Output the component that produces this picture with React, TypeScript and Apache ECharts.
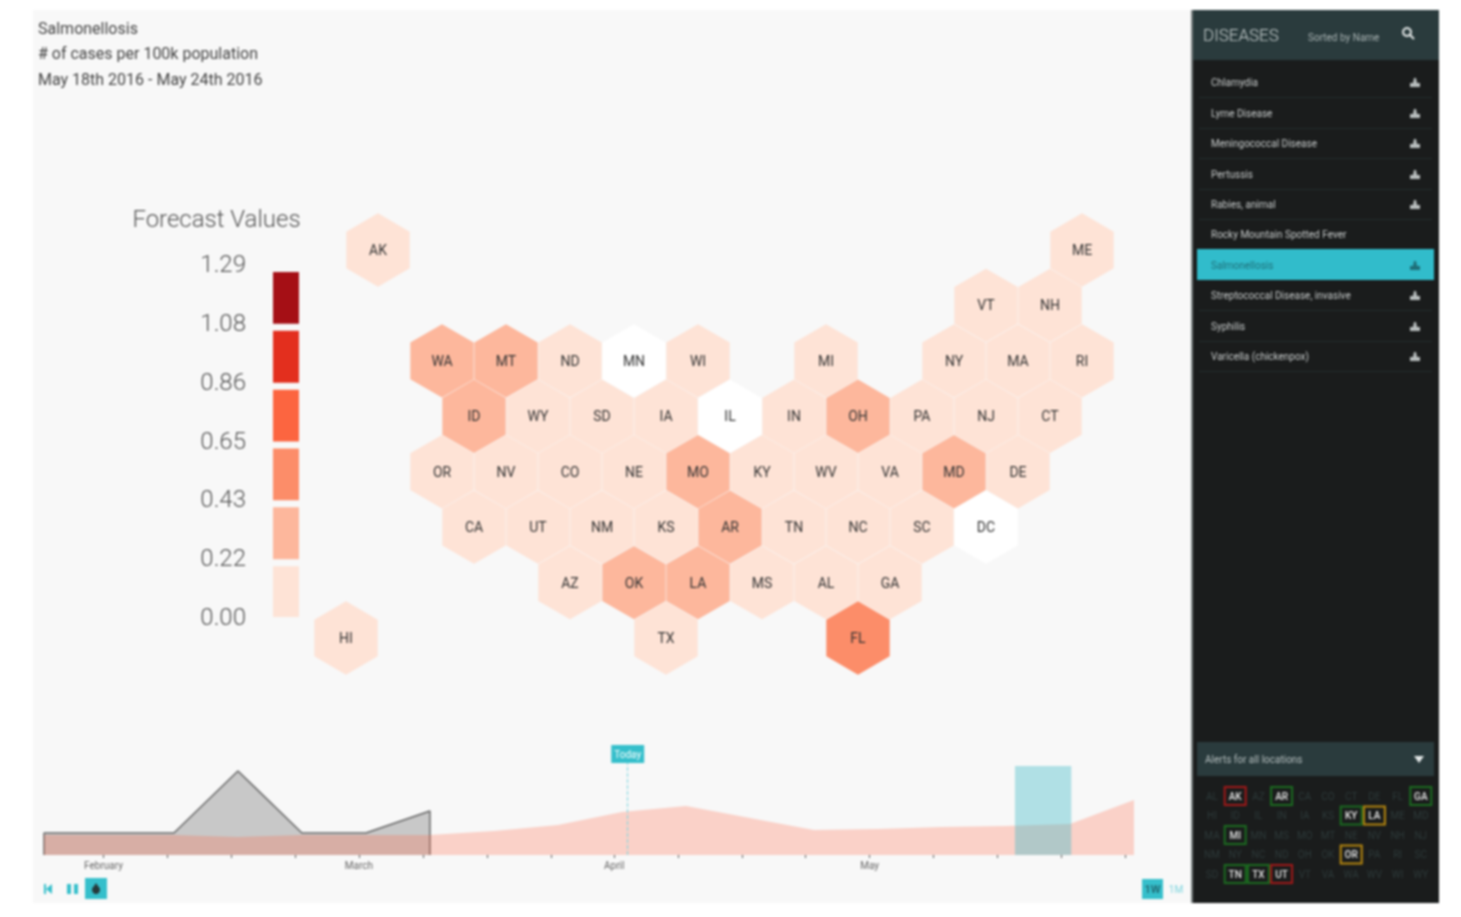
import React, { useEffect, useRef } from "react";
import * as echarts from "echarts";

const FONT = "Roboto";
const hexStates = ["AK","ME","VT","NH","WA","MT","ND","MN","WI","MI","NY","MA","RI","ID","WY","SD","IA","IL","IN","OH","PA","NJ","CT","OR","NV","CO","NE","MO","KY","WV","VA","MD","DE","CA","UT","NM","KS","AR","TN","NC","SC","DC","AZ","OK","LA","MS","AL","GA","HI","TX","FL"];
const hexCols = [-1,10,8.5,9.5,0,1,2,3,4,6,8,9,10,0.5,1.5,2.5,3.5,4.5,5.5,6.5,7.5,8.5,9.5,0,1,2,3,4,5,6,7,8,9,0.5,1.5,2.5,3.5,4.5,5.5,6.5,7.5,8.5,2,3,4,5,6,7,-1.5,3.5,6.5];
const hexRows = [0,0,1,1,2,2,2,2,2,2,2,2,2,3,3,3,3,3,3,3,3,3,3,4,4,4,4,4,4,4,4,4,4,5,5,5,5,5,5,5,5,5,6,6,6,6,6,6,7,7,7];
const hexValues = [0.1,0.1,0.1,0.1,0.3,0.3,0.1,null,0.1,0.1,0.1,0.1,0.1,0.3,0.1,0.1,0.1,null,0.1,0.3,0.1,0.1,0.1,0.1,0.1,0.1,0.1,0.3,0.1,0.1,0.1,0.3,0.1,0.1,0.1,0.1,0.1,0.3,0.1,0.1,0.1,null,0.1,0.3,0.3,0.1,0.1,0.1,0.1,0.1,0.5];
const legendTicks = [0, 0.215, 0.43, 0.645, 0.86, 1.075, 1.29];
const legendLabels = ["0.00", "0.22", "0.43", "0.65", "0.86", "1.08", "1.29"];
const legendColors = ["#fee3d6", "#fdb79c", "#fc8d69", "#fc6540", "#e32f1e", "#a50f15"];
const actualWeeks = [-0.03, 1, 2, 3, 4, 5, 6];
const actualValues = [0.22, 0.22, 0.22, 0.84, 0.22, 0.22, 0.44];
const forecastWeeks = [-0.03, 1, 2, 3, 4, 5, 6, 7, 8, 9, 10, 11, 12, 13, 14, 15, 16, 17];
const forecastValues = [0.2, 0.2, 0.2, 0.18, 0.2, 0.2, 0.2, 0.24, 0.3, 0.43, 0.49, 0.37, 0.25, 0.26, 0.28, 0.29, 0.31, 0.55];
const tickWeeks = [0.9,1.9,2.9,3.89,4.89,5.89,6.89,7.89,8.88,9.88,10.88,11.87,12.87,13.87,14.87,15.87,16.87];
const monthWeeks = [0.9, 4.89, 8.88, 12.87];
const monthNames = ["February", "March", "April", "May"];
const todayWeek = 9.09;
const windowWeeks = [15.14, 16.02];
const diseases = ["Chlamydia","Lyme Disease","Meningococcal Disease","Pertussis","Rabies, animal","Rocky Mountain Spotted Fever","Salmonellosis","Streptococcal Disease, invasive","Syphilis","Varicella (chickenpox)"];
const diseaseRowY = [82,113,143,174,204,234,265,295,326,356];
const alertStates = ["AL","AK","AZ","AR","CA","CO","CT","DE","FL","GA","HI","ID","IL","IN","IA","KS","KY","LA","ME","MD","MA","MI","MN","MS","MO","MT","NE","NV","NH","NJ","NM","NY","NC","ND","OH","OK","OR","PA","RI","SC","SD","TN","TX","UT","VT","VA","WA","WV","WI","WY"];
const alertLevels: Record<string, string> = { AK: "#a01818", AR: "#1b6b20", GA: "#1b6b20", KY: "#1b6b20", LA: "#b5860f", MI: "#1b6b20", OR: "#b5860f", TN: "#1b6b20", TX: "#1b6b20", UT: "#a01818" };
const titleLines = ["Salmonellosis", "# of cases per 100k population", "May 18th 2016 - May 24th 2016"];

const colorFor = (v: number | null) => {
  if (v == null) return "#ffffff";
  for (let i = 0; i < legendColors.length; i++) if (v <= legendTicks[i + 1]) return legendColors[i];
  return legendColors[legendColors.length - 1];
};
const txt = (x: number, y: number, text: string, fill: string, size: number, weight = 400, align = "left") => ({
  type: "text", x, y, z: 5,
  style: { text, fill, font: `${weight} ${size}px ${FONT}`, textAlign: align, textVerticalAlign: "middle", align, verticalAlign: "middle" },
});
const rect = (x: number, y: number, width: number, height: number, fill: string, z = 1, stroke?: string, lineWidth = 0) => ({
  type: "rect", z, shape: { x, y, width, height }, style: { fill, stroke, lineWidth },
});
const poly = (pts: number[][], fill: string) => ({ type: "polygon", z: 5, shape: { points: pts }, style: { fill } });
const mound = (x: number, y: number, fill: string) => poly([[x-5,y+5],[x-5,y+1],[x-2,y+1],[x-1,y-4],[x+1,y-4],[x+2,y+1],[x+5,y+1],[x+5,y+5]], fill);

export default function App() {
  const ref = useRef<HTMLDivElement>(null);
  useEffect(() => {
    const chart = echarts.init(ref.current!, null, { renderer: "svg" });
    const g: any[] = [
      rect(33, 10, 1158, 893, "#f8f8f8", -2),
      rect(1191, 10, 248, 893, "#1a1c1c", 1),
      rect(1191, 10, 2, 893, "#777f7f", 2),
      rect(1193, 10, 246, 50, "#2a3b3d", 2),
      rect(1197, 742, 237, 34, "#2a3b3d", 2),
      rect(1197, 249, 237, 31, "#31bccb", 3),
      txt(1203, 35, "DISEASES", "#c9d0d0", 17, 300),
      txt(1308, 37, "Sorted by Name", "#aab4b4", 10),
      { type: "circle", z: 5, shape: { cx: 1407, cy: 32, r: 4 }, style: { fill: "none", stroke: "#e4e8e8", lineWidth: 2 } },
      { type: "line", z: 5, shape: { x1: 1410, y1: 35, x2: 1414, y2: 39 }, style: { stroke: "#e4e8e8", lineWidth: 2 } },
      txt(1205, 759, "Alerts for all locations", "#b5bebe", 10),
      poly([[1414,756],[1424,756],[1419,763]], "#e4e8e8"),
      // player controls
      rect(44, 884, 2, 10, "#35bfcb", 5), poly([[52,884],[52,894],[46,889]], "#35bfcb"),
      rect(67, 884, 4, 10, "#35bfcb", 5), rect(74, 884, 4, 10, "#35bfcb", 5),
      rect(85, 878, 22, 21, "#35bfcb", 4),
      { type: "circle", z: 5, shape: { cx: 96, cy: 890, r: 4 }, style: { fill: "#26393b" } },
      poly([[96,883],[92,889],[100,889]], "#26393b"),
      rect(1142, 879, 21, 20, "#35bfcb", 4),
      txt(1152.5, 889, "1W", "#1f5f68", 11, 500, "center"),
      txt(1176, 889, "1M", "#7ed5de", 10, 400, "center"),
    ];
    titleLines.forEach((t, i) => g.push(txt(38, 28 + i * 25.5, t, "#444", 16, 400)));
    g.push(txt(216.5, 219, "Forecast Values", "#555", 24, 300, "center"));
    diseases.forEach((d, i) => {
      const y = diseaseRowY[i];
      const sel = d === "Salmonellosis";
      g.push(txt(1211, y, d, sel ? "#1f6f78" : "#c8cccc", 10));
      if (d !== "Rocky Mountain Spotted Fever") g.push(mound(1415, y, sel ? "#1f6f78" : "#b8bdbd"));
      if (!sel && i < 9 && d !== "Rocky Mountain Spotted Fever" && diseases[i + 1] !== "Salmonellosis") g.push(rect(1199, y + 15, 233, 1, "#232d2d", 2));
    });
    g.push(rect(1199, 371, 233, 1, "#232d2d", 2));
    alertStates.forEach((s, i) => {
      const cx = 1212 + (i % 10) * 23.2;
      const cy = 796 + Math.floor(i / 10) * 19.5;
      const c = alertLevels[s];
      if (c) g.push(rect(cx - 10.5, cy - 9, 21, 18, "none", 4, c, 2));
      g.push(txt(cx, cy, s, c ? "#e6e6e6" : "#2d3a3a", 10, c ? 500 : 400, "center"));
    });

    chart.setOption({
      animation: false,
      backgroundColor: "#ffffff",
      graphic: { elements: g },
      grid: [
        { left: 314, width: 800, top: 194.57, height: 498.87 },
        { left: 273, width: 26, top: 264, height: 353 },
        { left: 44, width: 1090, top: 763, height: 92 },
      ],
      xAxis: [
        { gridIndex: 0, type: "value", min: -2, max: 10.5, show: false },
        { gridIndex: 1, type: "value", min: 0, max: 1, show: false },
        {
          gridIndex: 2, type: "value", min: -0.03, max: 17, splitLine: { show: false },
          axisLine: { show: false },
          axisTick: { show: true, customValues: tickWeeks, length: 3, lineStyle: { color: "#555", width: 1 } },
          axisLabel: {
            customValues: monthWeeks, margin: 5, fontSize: 10, color: "#666", fontFamily: FONT, hideOverlap: false, showMinLabel: true, showMaxLabel: true,
            formatter: (v: number) => monthNames[monthWeeks.indexOf(v)] ?? "",
          },
        },
      ],
      yAxis: [
        { gridIndex: 0, type: "value", min: -1, max: 8, inverse: true, show: false },
        {
          gridIndex: 1, type: "value", min: 0, max: 1.29, splitLine: { show: false }, axisLine: { show: false }, axisTick: { show: false },
          axisLabel: { customValues: legendTicks, margin: 27, fontSize: 24, fontWeight: 300, color: "#555", fontFamily: FONT, formatter: (v: number) => legendLabels[legendTicks.indexOf(v)] ?? "" },
        },
        { gridIndex: 2, type: "value", min: 0, max: 0.92, show: false },
      ],
      series: [
        {
          type: "custom", xAxisIndex: 0, yAxisIndex: 0, clip: false,
          data: hexStates.map((s, i) => [hexCols[i], hexRows[i], hexValues[i], s]),
          encode: { x: 0, y: 1 },
          renderItem: (_: any, api: any) => {
            const [cx, cy] = api.coord([api.value(0), api.value(1)]);
            const [sx, sy] = api.size([1, 1]);
            const hw = sx * 0.495, r = sy * 0.662;
            const v = hexValues[_.dataIndex];
            return {
              type: "group",
              children: [
                { type: "polygon", shape: { points: [[cx, cy - r], [cx + hw, cy - r / 2], [cx + hw, cy + r / 2], [cx, cy + r], [cx - hw, cy + r / 2], [cx - hw, cy - r / 2]] }, style: { fill: colorFor(v) } },
                { type: "text", x: cx, y: cy, style: { text: hexStates[_.dataIndex], fill: "#333", font: `400 14px ${FONT}`, align: "center", verticalAlign: "middle", textAlign: "center", textVerticalAlign: "middle" } },
              ],
            };
          },
        },
        {
          type: "custom", xAxisIndex: 1, yAxisIndex: 1, clip: false,
          data: legendColors.map((_, i) => [legendTicks[i], legendTicks[i + 1]]),
          encode: { y: [0, 1] },
          renderItem: (p: any, api: any) => {
            const i = p.dataIndex;
            const lo = api.coord([0, api.value(0)]);
            const hi = api.coord([1, api.value(1)]);
            const top = hi[1] + 8, bottom = lo[1] + (i === 0 ? 0 : 1);
            return { type: "rect", shape: { x: lo[0], y: top, width: hi[0] - lo[0], height: bottom - top }, style: { fill: legendColors[i] } };
          },
        },
        {
          type: "line", xAxisIndex: 2, yAxisIndex: 2, symbol: "none", z: 2,
          data: [[actualWeeks[0], 0], ...actualWeeks.map((w, i) => [w, actualValues[i]]), [actualWeeks[actualWeeks.length - 1], 0]],
          lineStyle: { color: "#666", width: 1.5 }, areaStyle: { color: "#c8c8c8", opacity: 1 },
        },
        {
          type: "line", xAxisIndex: 2, yAxisIndex: 2, symbol: "none", z: 3,
          data: forecastWeeks.map((w, i) => [w, forecastValues[i]]),
          lineStyle: { width: 0 }, areaStyle: { color: "rgba(255,105,70,0.27)", opacity: 1 },
        },
        {
          type: "line", xAxisIndex: 2, yAxisIndex: 2, symbol: "none", z: 4, data: [],
          markArea: {
            silent: true, z: 4, itemStyle: { color: "rgba(68,188,201,0.4)" },
            data: [[{ xAxis: windowWeeks[0], yAxis: 0 }, { xAxis: windowWeeks[1], yAxis: 0.89 }]],
          },
          markLine: {
            silent: true, symbol: "none", z: 4,
            label: { formatter: "Today", position: "end", color: "#fff", fontSize: 10, fontFamily: FONT, backgroundColor: "#35bfcb", padding: [4, 3], distance: 0 },
            data: [{ xAxis: todayWeek, lineStyle: { color: "#7fd6df", type: "dashed", width: 1 } }],
          },
        },
      ],
    });
    return () => chart.dispose();
  }, []);
  return <div ref={ref} style={{ position: "absolute", left: 0, top: 0, width: 1461, height: 917, filter: "blur(0.8px)" }} />;
}
